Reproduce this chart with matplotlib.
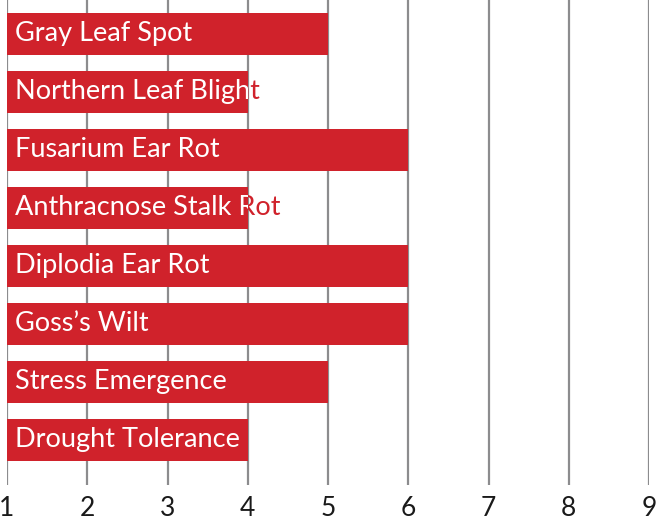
import matplotlib.pyplot as plt
from matplotlib.patches import Rectangle

# ------------------------------------------------------------
# Data
# ------------------------------------------------------------

TRAITS = [
    "Gray Leaf Spot",
    "Northern Leaf Blight",
    "Fusarium Ear Rot",
    "Anthracnose Stalk Rot",
    "Diplodia Ear Rot",
    "Goss\u2019s Wilt",
    "Stress Emergence",
    "Drought Tolerance",
]
SCORES = [5, 4, 6, 4, 6, 6, 5, 4]
X_TICKS = [1, 2, 3, 4, 5, 6, 7, 8, 9]

BAR_COLOR = "#d0222b"
GRID_COLOR = "#8c8c8e"
FONT = "Lato"

# ------------------------------------------------------------
# Draw
# ------------------------------------------------------------

fig = plt.figure(figsize=(6.57, 5.26), dpi=100)
ax = fig.add_axes([7 / 657, 41 / 526, 642 / 657, 485 / 526])

ax.set_xlim(1, 9)
ax.set_ylim(len(TRAITS) - 1 + 0.776, -0.586)

for x in X_TICKS:
    ax.axvline(x, color=GRID_COLOR, linewidth=1.6, zorder=1)

for i, (name, score) in enumerate(zip(TRAITS, SCORES)):
    bar = Rectangle((0.97, i - 0.37), score - 0.97, 0.74,
                    facecolor=BAR_COLOR, edgecolor="none", zorder=2)
    ax.add_patch(bar)

    # red copy shows wherever the label runs past the bar
    ax.text(1.1, i, name, color=BAR_COLOR, fontsize=19.5, family=FONT,
            va="center", ha="left", zorder=3)
    inner = ax.text(1.1, i, name, color="white", fontsize=19.5, family=FONT,
                    va="center", ha="left", zorder=4, clip_on=True)
    inner.set_clip_path(bar)

ax.set_xticks(X_TICKS)
ax.set_xticklabels([str(t) for t in X_TICKS], fontsize=19, family=FONT,
                   color="#1a1a1a")
ax.tick_params(axis="x", length=0, pad=8)
ax.set_yticks([])

for side in ["top", "right", "left", "bottom"]:
    ax.spines[side].set_visible(False)

fig.savefig("out.png", dpi=100)
